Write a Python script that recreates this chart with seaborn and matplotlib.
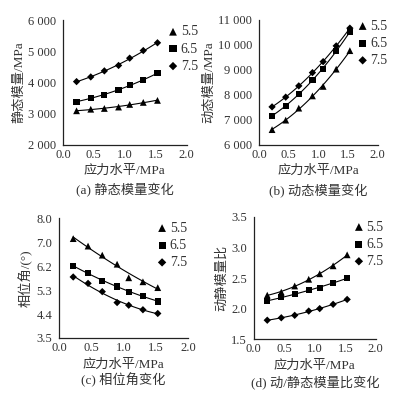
import numpy as np
import pandas as pd
import seaborn as sns
import matplotlib.pyplot as plt

sns.set_style("white")
plt.rcParams['font.family'] = ['Liberation Serif', 'Noto Sans CJK SC']

# stress level (MPa), same for all panels
stress = [0.22, 0.45, 0.67, 0.90, 1.08, 1.30, 1.53]
groups = ['5.5', '6.5', '7.5']

# (a) static modulus, MPa
static_55 = [3090, 3140, 3165, 3210, 3295, 3360, 3425]
static_65 = [3380, 3510, 3600, 3760, 3920, 4085, 4300]
static_75 = [4030, 4180, 4375, 4550, 4785, 5030, 5280]

# (b) dynamic modulus, MPa
dyn_55 = [6600, 6980, 7460, 7950, 8330, 9020, 9760]
dyn_65 = [7150, 7560, 8010, 8600, 9040, 9750, 10510]
dyn_75 = [7510, 7900, 8350, 8880, 9320, 9950, 10660]

# (c) phase angle, degree
phase_55 = [7.23, 6.95, 6.61, 6.27, 5.76, 5.61, 5.39]
phase_65 = [6.20, 5.95, 5.64, 5.43, 5.24, 5.09, 4.87]
phase_75 = [5.79, 5.55, 5.24, 4.83, 4.73, 4.56, 4.42]

# (d) dynamic/static modulus ratio
ratio_55 = [2.22, 2.27, 2.37, 2.48, 2.57, 2.70, 2.88]
ratio_65 = [2.12, 2.19, 2.24, 2.30, 2.34, 2.42, 2.50]
ratio_75 = [1.81, 1.85, 1.89, 1.96, 2.00, 2.07, 2.15]

markers = {'5.5': '^', '6.5': 's', '7.5': 'D'}
sizes = {'5.5': 24, '6.5': 20, '7.5': 14}
FS = 9


def make_df(a, b, c):
    rows = []
    for g, vals in zip(groups, [a, b, c]):
        for x, v in zip(stress, vals):
            rows.append({'stress': x, 'value': v, 'group': g})
    return pd.DataFrame(rows)


def draw_panel(ax, df, ylim, yticks, yticklabels, ylabel, title, legend_xy, title_y):
    for g in groups:
        sub = df[df['group'] == g]
        # quadratic trend line like the original
        coef = np.polyfit(sub['stress'], sub['value'], 2)
        xs = np.linspace(sub['stress'].min(), sub['stress'].max(), 50)
        ax.plot(xs, np.polyval(coef, xs), color='black', lw=0.8, zorder=1)
    sns.scatterplot(data=df, x='stress', y='value', style='group', size='group',
                    markers=markers, sizes=sizes, color='black', edgecolor='none',
                    ax=ax, zorder=2, legend=False)
    for g in groups:
        ax.scatter([], [], marker=markers[g], s=sizes[g] * 1.3, color='black',
                   edgecolor='none', label=g)
    ax.set_xlim(0, 2.0)
    ax.set_ylim(*ylim)
    ax.set_xticks([0.0, 0.5, 1.0, 1.5, 2.0])
    ax.set_xticklabels(['0.0', '0.5', '1.0', '1.5', '2.0'], fontsize=FS)
    ax.set_yticks(yticks)
    ax.set_yticklabels(yticklabels, fontsize=FS)
    ax.tick_params(axis='x', direction='in', length=3, width=0.8, pad=3, colors='#333333')
    ax.tick_params(axis='y', direction='out', length=3, width=0.8, pad=2, colors='#333333')
    for s in ['top', 'right']:
        ax.spines[s].set_visible(False)
    for s in ['left', 'bottom']:
        ax.spines[s].set_color('#222222')
        ax.spines[s].set_linewidth(0.9)
    ax.set_xlabel('应力水平/MPa', fontsize=FS + 0.5, color='#333333', labelpad=3)
    ax.set_ylabel(ylabel, fontsize=FS + 0.5, color='#333333', labelpad=2)
    ax.text(0.5, title_y, title, transform=ax.transAxes, ha='center', va='center',
            fontsize=FS + 0.5, color='#333333')
    leg = ax.legend(loc='upper left', bbox_to_anchor=legend_xy, frameon=False,
                    fontsize=10, handletextpad=0.1, borderaxespad=0, borderpad=0,
                    labelspacing=0.3, handlelength=0.9)
    for t in leg.get_texts():
        t.set_color('#333333')


fig = plt.figure(figsize=(3.96, 3.93), dpi=100)
ax_a = fig.add_axes([0.159, 0.632, 0.312, 0.316])
ax_b = fig.add_axes([0.654, 0.632, 0.300, 0.318])
ax_c = fig.add_axes([0.149, 0.140, 0.326, 0.305])
ax_d = fig.add_axes([0.641, 0.137, 0.308, 0.311])

draw_panel(ax_a, make_df(static_55, static_65, static_75), (2000, 6000),
           [2000, 3000, 4000, 5000, 6000],
           ['2 000', '3 000', '4 000', '5 000', '6 000'],
           '静态模量/MPa', '(a) 静态模量变化', (0.84, 0.96), -0.37)

draw_panel(ax_b, make_df(dyn_55, dyn_65, dyn_75), (6000, 11000),
           [6000, 7000, 8000, 9000, 10000, 11000],
           ['6 000', '7 000', '8 000', '9 000', '10 000', '11 000'],
           '动态模量/MPa', '(b) 动态模量变化', (0.82, 1.0), -0.37)

draw_panel(ax_c, make_df(phase_55, phase_65, phase_75), (3.5, 8.0),
           [3.5, 4.4, 5.3, 6.2, 7.1, 8.0],
           ['3.5', '4.4', '5.3', '6.2', '7.0', '8.0'],
           '相位角/(°)', '(c) 相位角变化', (0.75, 0.97), -0.35)

draw_panel(ax_d, make_df(ratio_55, ratio_65, ratio_75), (1.5, 3.5),
           [1.5, 2.0, 2.5, 3.0, 3.5],
           ['1.5', '2.0', '2.5', '3.0', '3.5'],
           '动静模量比', '(d) 动/静态模量比变化', (0.81, 0.97), -0.36)

fig.savefig('out.png', dpi=100, facecolor='white')
